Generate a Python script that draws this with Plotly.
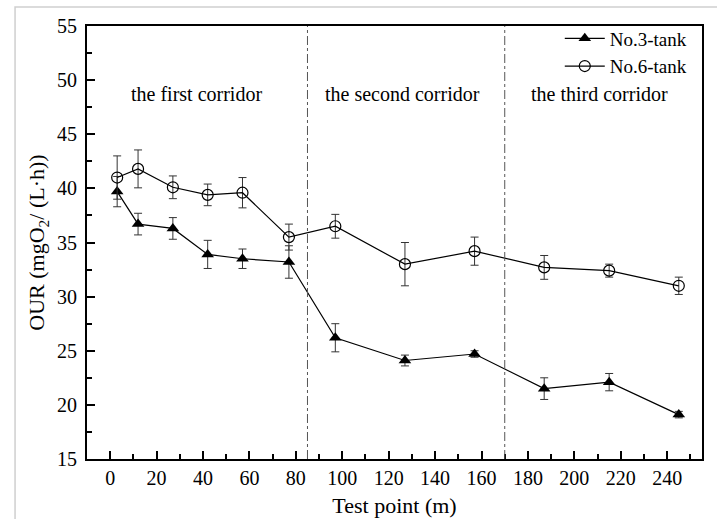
import plotly.graph_objects as go

test_point = [3, 12, 27, 42, 57, 77, 97, 127, 157, 187, 215, 245]
tank3 = [39.7, 36.7, 36.3, 33.9, 33.5, 33.2, 26.2, 24.1, 24.7, 21.5, 22.1, 19.1]
tank3_err = [1.4, 1.0, 1.0, 1.3, 0.9, 1.5, 1.3, 0.5, 0.3, 1.0, 0.8, 0.3]
tank6 = [41.0, 41.8, 40.1, 39.4, 39.6, 35.5, 36.5, 33.0, 34.2, 32.7, 32.4, 31.0]
tank6_err = [2.0, 1.75, 1.05, 1.0, 1.4, 1.2, 1.1, 2.0, 1.3, 1.1, 0.6, 0.8]
corridor_labels = ["the first corridor", "the second corridor", "the third corridor"]
corridor_x = [37, 126, 211]
corridor_bounds = [85, 170]

FONT = "Liberation Serif, Times New Roman, serif"

fig = go.Figure()
fig.add_trace(go.Scatter(
    x=test_point, y=tank3, name="No.3-tank", mode="lines+markers",
    line=dict(color="black", width=1.2),
    marker=dict(symbol="triangle-up", size=11, color="black"),
    error_y=dict(type="data", array=tank3_err, color="#333", thickness=1, width=4),
))
fig.add_trace(go.Scatter(
    x=test_point, y=tank6, name="No.6-tank", mode="lines+markers",
    line=dict(color="black", width=1.2),
    marker=dict(symbol="circle-open", size=11, color="black", line=dict(width=1.2)),
    error_y=dict(type="data", array=tank6_err, color="#333", thickness=1, width=4),
))

for b in corridor_bounds:
    fig.add_shape(type="line", x0=b, x1=b, y0=0, y1=1, xref="x", yref="paper",
                  line=dict(color="#555", width=1, dash="dashdot"))

for lbl, cx in zip(corridor_labels, corridor_x):
    fig.add_annotation(x=cx, y=48.7, text=lbl, showarrow=False,
                       font=dict(family=FONT, size=20, color="black"))

# outer light frame of the picture
fig.add_shape(type="rect", xref="paper", yref="paper",
              x0=-0.117, x1=1.2, y0=-0.5, y1=1.044,
              line=dict(color="#cfcfcf", width=1.5), layer="below")

fig.update_layout(
    width=717, height=519,
    margin=dict(l=87, r=15, t=26, b=60),
    paper_bgcolor="white", plot_bgcolor="white",
    font=dict(family=FONT, size=20, color="black"),
    showlegend=True,
    legend=dict(x=0.985, y=1.015, xanchor="right", yanchor="top",
                bgcolor="rgba(0,0,0,0)", font=dict(family=FONT, size=19),
                tracegroupgap=0, itemwidth=40),
    xaxis=dict(range=[-10, 255], tickmode="array", tickvals=list(range(0, 241, 20)),
               ticks="inside", ticklen=8, tickwidth=1.5, tickcolor="black",
               minor=dict(ticks="inside", ticklen=5, tickwidth=1.5, tickcolor="black", dtick=10, tick0=0),
               showline=True, linecolor="black", linewidth=2, mirror=True,
               showgrid=False, zeroline=False, automargin=False,
               title=dict(text="Test point (m)", font=dict(family=FONT, size=22), standoff=10),
               tickfont=dict(family=FONT, size=20)),
    yaxis=dict(range=[15, 55], dtick=5, tick0=15,
               ticks="inside", ticklen=8, tickwidth=1.5, tickcolor="black",
               minor=dict(ticks="inside", ticklen=5, tickwidth=1.5, tickcolor="black", dtick=2.5, tick0=15),
               showline=True, linecolor="black", linewidth=2, mirror=True,
               showgrid=False, zeroline=False, ticklabelstandoff=4, automargin=False,
               title=dict(text="OUR (mgO<sub>2</sub>/ (L·h))", font=dict(family=FONT, size=22), standoff=6),
               tickfont=dict(family=FONT, size=20)),
)

fig.write_html("out.html")
